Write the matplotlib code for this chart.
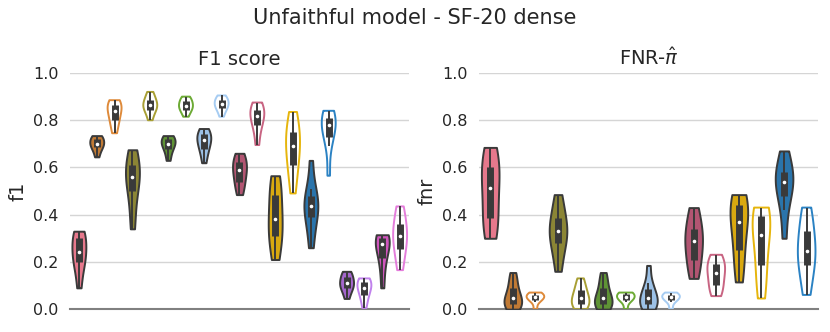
import numpy as np
import matplotlib
matplotlib.use("Agg")
import matplotlib.pyplot as plt

# colours per method family: (filled, hollow)
fill_colors = ['#e6788c', '#c07a35', '#8b8535', '#5f9335', '#9cc1e6',
               '#b25572', '#d9a910', '#2a74ab', '#a466cc', '#cf55bd']
line_colors = ['#e6788c', '#de8a3a', '#a89f34', '#6caa34', '#a6ccf2',
               '#c86482', '#e6b50c', '#2b82c3', '#c081ec', '#e47ddb']

# F1 score violins: (family index, filled?, samples)
f1_family = [0, 1, 1, 2, 2, 3, 3, 4, 4, 5, 5, 6, 6, 7, 7, 8, 8, 9, 9]
f1_filled = [True, True, False, True, False, True, False, True, False, True,
             False, True, False, True, False, True, False, True, False]
f1_values = [
    [0.09, 0.16, 0.20, 0.22, 0.24, 0.27, 0.30, 0.32, 0.33],
    [0.645, 0.67, 0.685, 0.695, 0.70, 0.71, 0.72, 0.73, 0.735],
    [0.745, 0.78, 0.80, 0.82, 0.84, 0.85, 0.865, 0.875, 0.885],
    [0.34, 0.42, 0.50, 0.53, 0.56, 0.58, 0.61, 0.64, 0.675],
    [0.80, 0.83, 0.845, 0.855, 0.865, 0.87, 0.885, 0.90, 0.92],
    [0.63, 0.66, 0.68, 0.695, 0.70, 0.71, 0.72, 0.73, 0.735],
    [0.815, 0.835, 0.845, 0.855, 0.86, 0.87, 0.88, 0.89, 0.90],
    [0.62, 0.66, 0.68, 0.70, 0.715, 0.725, 0.74, 0.75, 0.765],
    [0.815, 0.84, 0.85, 0.86, 0.87, 0.875, 0.885, 0.895, 0.905],
    [0.485, 0.52, 0.54, 0.57, 0.59, 0.60, 0.625, 0.64, 0.66],
    [0.695, 0.75, 0.78, 0.80, 0.82, 0.83, 0.845, 0.86, 0.875],
    [0.21, 0.27, 0.31, 0.35, 0.38, 0.43, 0.485, 0.53, 0.565],
    [0.49, 0.57, 0.61, 0.66, 0.69, 0.72, 0.75, 0.79, 0.835],
    [0.26, 0.33, 0.39, 0.42, 0.435, 0.45, 0.48, 0.51, 0.63],
    [0.565, 0.69, 0.73, 0.76, 0.78, 0.79, 0.81, 0.83, 0.84],
    [0.045, 0.075, 0.09, 0.10, 0.11, 0.12, 0.135, 0.15, 0.16],
    [0.005, 0.04, 0.06, 0.08, 0.09, 0.10, 0.115, 0.125, 0.13],
    [0.09, 0.17, 0.215, 0.25, 0.275, 0.285, 0.30, 0.31, 0.315],
    [0.165, 0.22, 0.255, 0.29, 0.31, 0.33, 0.36, 0.40, 0.435],
]

# FNR violins
fnr_family = [0, 1, 1, 2, 2, 3, 3, 4, 4, 5, 5, 6, 6, 7, 7]
fnr_filled = [True, True, False, True, False, True, False, True, False, True,
              False, True, False, True, False]
fnr_values = [
    [0.30, 0.34, 0.385, 0.45, 0.515, 0.56, 0.60, 0.65, 0.685],
    [0.0, 0.01, 0.02, 0.035, 0.045, 0.06, 0.09, 0.12, 0.155],
    [0.0, 0.03, 0.04, 0.045, 0.05, 0.055, 0.06, 0.065, 0.07],
    [0.16, 0.23, 0.28, 0.31, 0.33, 0.35, 0.385, 0.43, 0.485],
    [0.0, 0.01, 0.02, 0.035, 0.045, 0.06, 0.08, 0.10, 0.13],
    [0.0, 0.01, 0.02, 0.035, 0.045, 0.06, 0.09, 0.12, 0.155],
    [0.0, 0.03, 0.04, 0.045, 0.05, 0.055, 0.065, 0.068, 0.07],
    [0.0, 0.01, 0.02, 0.035, 0.045, 0.06, 0.085, 0.11, 0.185],
    [0.0, 0.03, 0.04, 0.045, 0.05, 0.055, 0.06, 0.065, 0.07],
    [0.13, 0.18, 0.21, 0.26, 0.29, 0.31, 0.34, 0.39, 0.43],
    [0.055, 0.08, 0.10, 0.13, 0.155, 0.17, 0.19, 0.21, 0.23],
    [0.115, 0.19, 0.25, 0.32, 0.37, 0.40, 0.44, 0.47, 0.485],
    [0.045, 0.12, 0.185, 0.26, 0.315, 0.35, 0.395, 0.42, 0.43],
    [0.30, 0.42, 0.48, 0.52, 0.54, 0.56, 0.58, 0.62, 0.67],
    [0.06, 0.13, 0.185, 0.22, 0.245, 0.28, 0.33, 0.38, 0.43],
]

plt.rcParams['font.family'] = 'DejaVu Sans'
fig = plt.figure(figsize=(8.3, 3.32), dpi=100)
ax1 = fig.add_axes([0.0843, 0.069, 0.4085, 0.711])
ax2 = fig.add_axes([0.577, 0.069, 0.4085, 0.711])


def draw_panel(ax, values, family, filled, title, ylabel):
    n = len(values)
    for i, vals in enumerate(values):
        vals = np.array(vals)
        parts = ax.violinplot([vals], positions=[i], widths=0.78,
                              showextrema=False, points=200)
        body = parts['bodies'][0]
        body.set_alpha(1)
        if filled[i]:
            body.set_facecolor(fill_colors[family[i]])
            body.set_edgecolor('#3a3a3a')
        else:
            body.set_facecolor('none')
            body.set_edgecolor(line_colors[family[i]])
        body.set_linewidth(1.4)
        body.set_zorder(3)

        q1, med, q3 = np.percentile(vals, [25, 50, 75])
        iqr = q3 - q1
        lo = vals[vals >= q1 - 1.5 * iqr].min()
        hi = vals[vals <= q3 + 1.5 * iqr].max()
        ax.vlines(i, lo, hi, color='#3a3a3a', lw=1.4, zorder=4)
        ax.vlines(i, q1, q3, color='#3a3a3a', lw=5, zorder=4)
        ax.plot(i, med, 'o', color='white', ms=1.6, zorder=5)

    ax.set_xlim(-0.5, n - 0.5)
    ax.set_ylim(0, 1.0)
    ax.set_yticks([0.0, 0.2, 0.4, 0.6, 0.8, 1.0])
    ax.set_yticklabels(['0.0', '0.2', '0.4', '0.6', '0.8', '1.0'])
    ax.set_xticks([])
    ax.grid(axis='y', color='#d5d5d5', lw=1)
    ax.set_axisbelow(True)
    for s in ['left', 'right', 'top']:
        ax.spines[s].set_visible(False)
    ax.spines['bottom'].set_color('#808080')
    ax.spines['bottom'].set_linewidth(1.5)
    ax.tick_params(axis='y', length=0, labelsize=11.5, labelcolor='#262626', pad=8)
    ax.set_title(title, fontsize=14, color='#262626', pad=6)
    ax.set_ylabel(ylabel, fontsize=14, color='#262626')


draw_panel(ax1, f1_values, f1_family, f1_filled, 'F1 score', 'f1')
draw_panel(ax2, fnr_values, fnr_family, fnr_filled, r'FNR-$\hat{\pi}$', 'fnr')

fig.suptitle('Unfaithful model - SF-20 dense', fontsize=15, color='#262626', y=0.975)
fig.savefig('out.png', dpi=100)
